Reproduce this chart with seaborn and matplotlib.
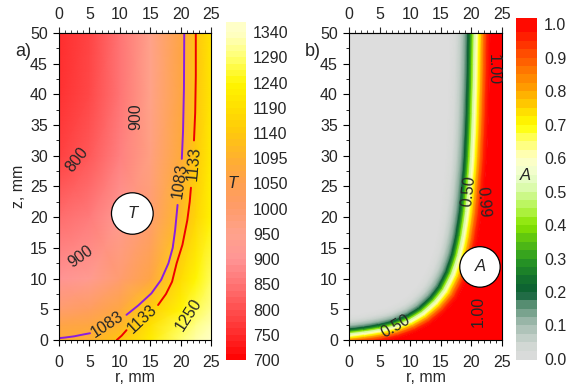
import numpy as np
import matplotlib
matplotlib.use('Agg')
import matplotlib.pyplot as plt
import seaborn as sns
from matplotlib.colors import LinearSegmentedColormap
from matplotlib.patches import Ellipse, Polygon
from matplotlib.ticker import MultipleLocator

sns.set_style('ticks')
plt.rcParams['font.family'] = ['Liberation Sans', 'DejaVu Sans']

# ---- panel a: temperature field T(r, z), read on a coarse grid ----
r_T = [0, 5, 10, 15, 20, 22.5, 25]
z_T = [0, 2.5, 5, 10, 20, 30, 40, 50]
T_table = [
    [1085, 1095, 1135, 1220, 1290, 1320, 1340],
    [1060, 1070, 1100, 1190, 1270, 1300, 1325],
    [995, 1020, 1070, 1150, 1235, 1275, 1305],
    [900, 925, 990, 1065, 1180, 1240, 1280],
    [840, 862, 920, 990, 1110, 1165, 1235],
    [780, 812, 868, 965, 1078, 1140, 1215],
    [760, 790, 852, 952, 1067, 1135, 1205],
    [755, 785, 850, 950, 1065, 1133, 1200],
]
T_ticks = [700, 750, 800, 850, 900, 950, 1000, 1050, 1095, 1140, 1190, 1240, 1290, 1340]
T_colors = ['#ff0000', '#ff2a2a', '#ff5050', '#ff7474', '#ff9595', '#ffa28c', '#ff9c6a',
            '#ffa050', '#ffb030', '#ffc80c', '#ffe000', '#fff500', '#ffff70', '#ffffc8']

# isotherms 1083 (melting) and 1133, split where the labels sit
iso1083 = [
    ([0, 1, 2.5, 4, 5.1], [0.3, 0.4, 0.6, 0.9, 1.1]),
    ([11.1, 13, 15.2, 16.8, 18.0, 18.7, 19.1, 19.5], [4.1, 5.6, 7.6, 9.8, 12.5, 15, 17.9, 22]),
    ([20.2, 20.4, 20.55, 20.6], [29.5, 34, 41, 50]),
]
iso1133 = [
    ([9.5, 10.3, 11.1], [0, 0.7, 1.6]),
    ([16.3, 17.6, 18.6, 19.35, 20.3, 21.1, 21.5, 21.7], [5.7, 7.5, 9.5, 12.5, 15.5, 19.5, 22.5, 24.8]),
    ([22.2, 22.4, 22.5, 22.5], [32.5, 37, 43, 50]),
]
labels_a = [('800', 2.9, 29.4, 52), ('900', 12.7, 36.4, 90), ('900', 3.6, 13.5, 35),
            ('1083', 7.9, 2.6, 33), ('1133', 13.7, 3.4, 43), ('1250', 21.3, 4.1, 57),
            ('1083', 19.9, 26.0, 82), ('1133', 22.1, 28.7, 85)]

# ---- panel b: field A, described by its 0.5 isoline and the cross-band profile ----
cl_r = [-4, 0, 2.5, 5, 7.5, 10, 12, 14, 15.5, 16.8, 17.8, 18.5, 19.1, 19.5, 19.9, 20.2, 20.4, 20.5]
cl_z = [0.5, 1.0, 1.3, 1.7, 2.3, 3.3, 4.5, 6.3, 8.2, 10.8, 13.8, 17, 21, 25, 30, 37, 45, 53]
band_w = [0.75, 0.75, 0.75, 0.78, 0.8, 0.85, 0.9, 0.95, 1, 1, 1, 1, 1, 1, 1, 1, 1, 1]
prof_off = [-4.0, -3.0, -2.2, -1.5, -1.0, -0.6, -0.3, 0.0, 0.4, 0.8, 1.2, 1.6, 2.1, 2.6]
prof_A = [0.0, 0.02, 0.07, 0.13, 0.2, 0.3, 0.4, 0.5, 0.6, 0.7, 0.8, 0.88, 0.96, 1.0]
A_ticks = [0.0, 0.1, 0.2, 0.3, 0.4, 0.5, 0.6, 0.7, 0.8, 0.9, 1.0]
A_anchor = [0.0, 0.05, 0.1, 0.15, 0.2, 0.25, 0.3, 0.35, 0.4, 0.45, 0.5,
            0.55, 0.6, 0.65, 0.7, 0.75, 0.8, 0.85, 0.9, 0.95, 1.0]
A_colors = ['#dddddd', '#cdd6d0', '#a3bcb0', '#6a9a82', '#0b5e34', '#17782c', '#2a9a22',
            '#58c012', '#88e400', '#b4f44c', '#d4fa9e', '#ecfdd0', '#ffffc4', '#ffff70',
            '#ffff00', '#ffd400', '#ffa800', '#ff8000', '#ff5800', '#ff2c00', '#ff0000']
labels_b = [('0.50', 19.5, 24.2, 84), ('0.99', 21.9, 22.5, -85), ('1.00', 23.5, 44, -90),
            ('1.00', 21.1, 4.6, 90), ('0.50', 7.6, 2.2, 30)]

cmap_T = LinearSegmentedColormap.from_list('T', T_colors)
cmap_A = LinearSegmentedColormap.from_list('A', list(zip(A_anchor, A_colors)))

W, H = 578, 385
fig = plt.figure(figsize=(W / 100, H / 100), dpi=100)


def px(x0, y0, x1, y1):
    return [x0 / W, 1 - y1 / H, (x1 - x0) / W, (y1 - y0) / H]


def setup(ax):
    ax.set_xlim(0, 25)
    ax.set_ylim(0, 50)
    ax.set_xticks(range(0, 26, 5))
    ax.set_yticks(range(0, 51, 5))
    ax.xaxis.set_minor_locator(MultipleLocator(1))
    ax.yaxis.set_minor_locator(MultipleLocator(2.5))
    ax.tick_params(which='both', direction='out', labelsize=11.5, top=False, right=False,
                   color='black')
    ax.tick_params(which='major', length=4, width=0.8)
    ax.tick_params(which='minor', length=2, width=0.6)
    ax.tick_params(axis='x', pad=7)
    ax.tick_params(axis='y', pad=4)
    for s in ax.spines.values():
        s.set_linewidth(0.8)
        s.set_color('black')
    sec = ax.secondary_xaxis('top')
    sec.set_xticks(range(0, 26, 5))
    sec.xaxis.set_minor_locator(MultipleLocator(1))
    sec.tick_params(which='both', direction='out', labelsize=11.5, pad=4)
    sec.tick_params(which='major', length=4, width=0.8)
    sec.tick_params(which='minor', length=2, width=0.6)
    ax.set_xlabel('r, mm', fontsize=11.5, va='center')
    ax.xaxis.set_label_coords(0.5, -0.123)


# ---------- panel a ----------
ax_a = fig.add_axes(px(59, 33, 211, 340))
idx_T = np.arange(len(T_ticks))
C_T = np.interp(np.array(T_table, float), T_ticks, idx_T)
ax_a.pcolormesh(r_T, z_T, C_T, shading='gouraud', cmap=cmap_T, vmin=0, vmax=idx_T[-1])
for seg_r, seg_z in iso1083:
    sns.lineplot(x=seg_r, y=seg_z, sort=False, estimator=None, color='#8a1ee0', lw=1.4,
                 ax=ax_a, legend=False)
for seg_r, seg_z in iso1133:
    sns.lineplot(x=seg_r, y=seg_z, sort=False, estimator=None, color='#ee0000', lw=1.4,
                 ax=ax_a, legend=False)
for txt, r, z, rot in labels_a:
    ax_a.text(r, z, txt, rotation=rot, ha='center', va='center', fontsize=11.5,
              rotation_mode='anchor')
ax_a.add_patch(Ellipse((12.06, 20.6), 6.86, 6.75, facecolor='white', edgecolor='black',
                       lw=0.9, zorder=5))
ax_a.text(12.06, 20.6, 'T', style='italic', ha='center', va='center', fontsize=12, zorder=6)
setup(ax_a)
ax_a.set_ylabel('z, mm', fontsize=11.5)
ax_a.yaxis.set_label_coords(-0.215, 0.5)

# colorbar a (equally spaced labels)
cb_a = fig.add_axes(px(226, 22, 246, 360))
edges_a = np.append(np.arange(0, 13.25, 0.25), 13.4)
mids_a = np.clip((edges_a[:-1] + edges_a[1:]) / 2, 0, 13)
cb_a.pcolormesh([0, 1], edges_a, mids_a[:, None], cmap=cmap_T, vmin=0, vmax=13)
cb_a.set_ylim(0, 13.4)
cb_a.set_xticks([])
cb_a.yaxis.tick_right()
cb_a.set_yticks(idx_T, [str(t) for t in T_ticks])
cb_a.tick_params(axis='y', length=0, pad=5, labelsize=11.5)
for s in cb_a.spines.values():
    s.set_visible(False)
fig.text(233 / W, 1 - 183 / H, 'T', style='italic', ha='center', va='center', fontsize=12)

# ---------- panel b ----------
ax_b = fig.add_axes(px(349, 33, 502, 340))
ax_b.set_facecolor(cmap_A(0.0))
cr = np.array(cl_r, float)
cz = np.array(cl_z, float)
tr, tz = np.gradient(cr), np.gradient(cz)
nn = np.hypot(tr, tz)
nr, nz = tz / nn, -tr / nn
scale = np.array(band_w)[:, None] * np.array(prof_off)[None, :]
X = cr[:, None] + scale * nr[:, None]
Z = cz[:, None] + scale * nz[:, None]
C_A = np.tile(prof_A, (len(cr), 1))
outer = np.column_stack([X[:, -1], Z[:, -1]])
red_poly = np.vstack([outer, [[30, Z[-1, -1]], [30, -10], [X[0, -1], -10]]])
ax_b.add_patch(Polygon(red_poly, closed=True, facecolor=cmap_A(1.0), edgecolor='none'))
ax_b.pcolormesh(X, Z, C_A, shading='gouraud', cmap=cmap_A, vmin=0, vmax=1)
for txt, r, z, rot in labels_b:
    ax_b.text(r, z, txt, rotation=rot, ha='center', va='center', fontsize=11.5,
              rotation_mode='anchor')
ax_b.add_patch(Ellipse((21.4, 11.9), 6.6, 6.6, facecolor='white', edgecolor='black',
                       lw=0.9, zorder=5))
ax_b.text(21.4, 11.9, 'A', style='italic', ha='center', va='center', fontsize=12, zorder=6)
setup(ax_b)

# colorbar b
cb_b = fig.add_axes(px(516, 18, 537, 360))
edges_b = np.linspace(0, 1, 41)
mids_b = (edges_b[:-1] + edges_b[1:]) / 2
edges_b[0], edges_b[-1] = -0.003, 1.018
cb_b.pcolormesh([0, 1], edges_b, mids_b[:, None], cmap=cmap_A, vmin=0, vmax=1)
cb_b.set_ylim(-0.003, 1.018)
cb_b.set_xticks([])
cb_b.yaxis.tick_right()
cb_b.set_yticks(A_ticks, [f'{a:.1f}' for a in A_ticks])
cb_b.tick_params(axis='y', length=0, pad=5, labelsize=11.5)
for s in cb_b.spines.values():
    s.set_visible(False)
fig.text(525 / W, 1 - 175 / H, 'A', style='italic', ha='center', va='center', fontsize=12)

fig.text(23 / W, 1 - 52 / H, 'a)', fontsize=13, ha='center', va='center')
fig.text(313 / W, 1 - 52 / H, 'b)', fontsize=13, ha='center', va='center')

fig.savefig('out.png', dpi=100)
